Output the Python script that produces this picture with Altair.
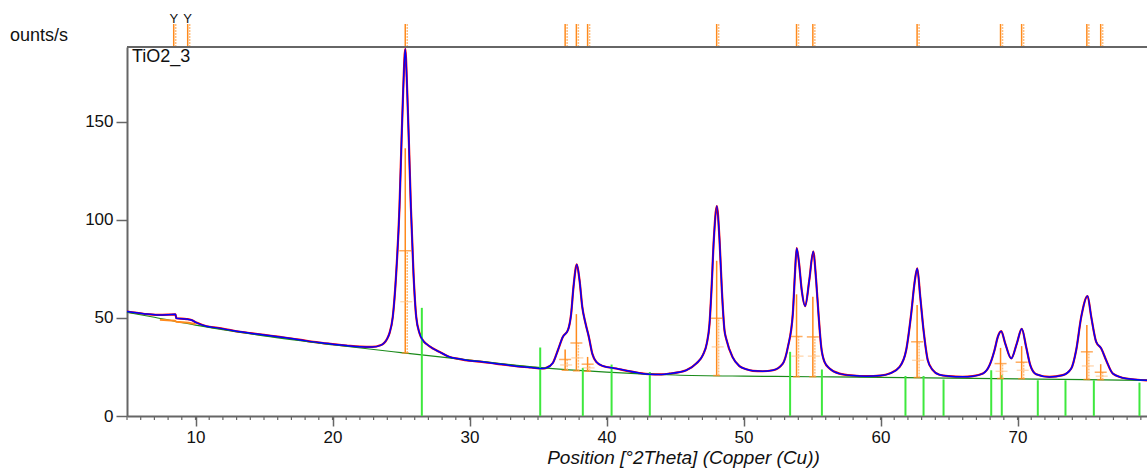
import altair as alt
import pandas as pd

# ---------------- data ----------------
prof_x = [5.0, 6.2, 7.2, 8.0, 8.54, 8.6, 9.34, 9.7, 10.06, 10.8, 11.6, 12.8, 14.0, 15.0, 16.0, 17.0,
          18.0, 19.0, 20.0, 21.0, 22.0, 22.9, 23.5, 24.0, 24.16, 24.4, 24.65, 24.89, 25.04, 25.16,
          25.31, 25.45, 25.57, 25.72, 25.91, 26.11, 26.35, 26.6, 26.84, 27.3, 27.8, 28.5, 29.3, 30.0,
          30.9, 32.0, 33.4, 34.5, 35.35, 35.6, 36.08, 36.45, 36.81, 37.18, 37.42, 37.59, 37.83, 38.03,
          38.23, 38.47, 38.71, 38.96, 39.25, 39.73, 40.71, 41.5, 42.3, 43.1, 44.0, 44.6, 45.82, 46.55,
          47.03, 47.32, 47.52, 47.66, 47.83, 48.05, 48.25, 48.42, 48.61, 48.75, 49.2, 49.7, 50.2,
          50.68, 51.4, 52.14, 52.87, 53.24, 53.6, 53.75, 53.88, 54.05, 54.25, 54.5, 54.8, 55.09,
          55.3, 55.47, 55.67, 55.91, 56.28, 57.0, 58.0, 58.95, 60.0, 60.66, 61.39, 61.87, 62.24,
          62.48, 62.68, 62.9, 63.14, 63.45, 63.8, 64.3, 65.0, 66.0, 66.74, 67.47, 67.96, 68.32,
          68.56, 68.81, 69.1, 69.54, 69.95, 70.31, 70.63, 70.93, 71.36, 72.33, 73.3, 73.92, 74.28,
          74.65, 75.11, 75.38, 75.74, 76.11, 76.47, 76.96, 77.93, 79.45]
prof_y = [53.2, 52.1, 51.5, 51.6, 51.8, 49.8, 49.4, 48.9, 47.6, 45.7, 44.9, 43.4, 42.2, 41.3, 40.4, 39.5,
          38.4, 37.4, 36.6, 35.9, 35.3, 35.2, 36.0, 39.5, 42.2, 50.5, 72.8, 106.6, 140.7, 166.0,
          187.0, 166.0, 140.7, 106.6, 72.8, 50.5, 42.2, 38.5, 36.8, 34.5, 32.7, 30.2, 29.0, 28.2,
          27.6, 26.6, 25.4, 24.7, 24.2, 24.5, 27.0, 33.5, 40.3, 43.7, 52.2, 65.8, 77.2, 69.2,
          55.6, 47.1, 40.3, 31.8, 27.6, 25.5, 24.2, 23.0, 22.0, 21.3, 21.2, 21.6, 23.3, 26.7,
          31.0, 37.0, 47.1, 64.1, 89.6, 107.0, 89.6, 64.1, 43.7, 39.0, 30.0, 25.4, 23.8,
          23.0, 22.8, 23.3, 26.7, 35.2, 52.2, 72.0, 85.5, 78.0, 64.0, 56.0, 69.2, 83.8,
          69.2, 52.2, 35.2, 27.6, 24.2, 21.6, 20.6, 20.3, 20.6, 21.6, 25.0, 33.5, 52.2,
          67.7, 75.2, 60.7, 43.7, 28.4, 23.5, 21.0, 20.3, 20.0, 20.3, 21.6, 25.9, 33.5,
          40.3, 43.2, 37.0, 29.3, 37.0, 44.4, 35.2, 25.9, 21.3, 19.9, 20.8, 24.2, 33.5,
          50.5, 61.1, 50.5, 37.8, 34.4, 28.4, 21.6, 19.1, 18.2]

bg_x = [5, 7, 10, 12, 15, 20, 25, 30, 35, 40, 45, 50, 55, 60, 65, 70, 75, 79.45]
bg_y = [52.8, 50.3, 46.3, 44.0, 40.8, 36.3, 32.3, 28.5, 24.8, 22.4, 20.9, 20.3, 20.0, 19.7, 19.3, 18.9, 18.5, 18.1]

seg_x = [7.4, 8.5, 8.6, 9.5, 10.0]
seg_y = [49.0, 48.5, 48.0, 47.5, 46.8]

ana_pos = [25.31, 36.98, 37.80, 38.62, 48.04, 53.87, 55.06, 62.67, 68.76, 70.30, 75.06, 76.07]
ana_top = [136.4, 33.9, 51.9, 30.1, 79.1, 62.0, 60.7, 56.5, 34.7, 35.6, 46.3, 26.4]
ana_cross = [84.2, 28.8, 37.2, 26.4, 49.8, 40.5, 40.3, 37.8, 26.7, 27.4, 32.7, 22.3]
ana_dot = [58.2, 26.0, 29.6, 24.5, 35.2, 30.5, 30.5, 28.4, 22.8, 23.3, 25.5, 20.3]
ana_base = [32.1, 23.3, 23.0, 22.8, 20.6, 20.0, 20.0, 19.6, 19.1, 19.0, 18.6, 18.5]

rut_pos = [26.52, 35.16, 38.27, 40.37, 43.16, 53.40, 55.72, 61.82, 63.14, 64.60, 68.08, 68.85,
           71.48, 73.50, 75.57, 78.90]
rut_top = [55.1, 34.9, 24.5, 26.2, 22.4, 32.7, 23.7, 20.4, 20.4, 18.6, 23.3, 20.8,
           18.2, 18.2, 18.2, 17.0]

gamma_pos = [8.41, 9.43]
gamma_mark = ["Y", "Y"]

x_ticks = [10, 20, 30, 40, 50, 60, 70]
y_ticks = [0, 50, 100, 150]
minor_ticks = list(range(5, 80))

x_title = "Position [°2Theta] (Copper (Cu))"
y_label = "ounts/s"
sample_label = "TiO2_3"

# ---------------- chart ----------------
W, H = 1020, 369
FONT = "Liberation Sans"
xs = alt.Scale(domain=[5, 79.45], nice=False, zero=False)
ys = alt.Scale(domain=[0, 188], nice=False, zero=False)

prof = pd.DataFrame({"x": prof_x, "y": prof_y})
bg = pd.DataFrame({"x": bg_x, "y": bg_y})
seg = pd.DataFrame({"x": seg_x, "y": seg_y})
ana = pd.DataFrame({"pos": ana_pos, "top": ana_top, "cross": ana_cross, "dot": ana_dot, "base": ana_base})
rut = pd.DataFrame({"pos": rut_pos, "top": rut_top})
strip = pd.DataFrame({"pos": ana_pos + gamma_pos})
gam = pd.DataFrame({"pos": gamma_pos, "m": gamma_mark})
minor = pd.DataFrame({"t": minor_ticks})
one = pd.DataFrame({"a": [0]})

ORANGE = "#ff8a1c"
LIGHT_OR = "#ffbf80"

x_axis = alt.Axis(values=x_ticks, tickSize=10, labelFontSize=17, labelFont=FONT, labelColor="#111",
                  domainColor="#666", domainWidth=2, tickColor="#666", tickWidth=1.5,
                  labelPadding=3, grid=False, titleFont=FONT, titleFontSize=19,
                  titleFontStyle="italic", titleFontWeight="normal", titleColor="#111",
                  titleX=556, titleY=41, titleAlign="center", titleBaseline="middle")
y_axis = alt.Axis(values=y_ticks, tickSize=11, labelFontSize=17, labelFont=FONT, labelColor="#111",
                  domainColor="#666", domainWidth=2, tickColor="#666", tickWidth=1.5,
                  labelPadding=3, grid=False)


def X(f):
    return alt.X(f, type="quantitative", scale=xs, axis=x_axis, title=x_title)


def Y(f):
    return alt.Y(f, type="quantitative", scale=ys, axis=y_axis, title=None)


bg_line = alt.Chart(bg).mark_line(color="#1a8a1a", strokeWidth=1.2, interpolate="monotone").encode(
    x=X("x"), y=Y("y"))
seg_line = alt.Chart(seg).mark_line(color=ORANGE, strokeWidth=2).encode(x=X("x"), y=Y("y"))

rut_rules = alt.Chart(rut).mark_rule(color="#3ee83e", strokeWidth=2).encode(
    x=X("pos"), y=Y("top"), y2=alt.value(H))

ana_rules = alt.Chart(ana).mark_rule(color=ORANGE, strokeWidth=1.5).encode(
    x=X("pos"), y=Y("base"), y2=alt.Y2("top"))
ana_light = alt.Chart(ana).mark_rule(color=LIGHT_OR, strokeWidth=1.5, strokeDash=[2, 1], xOffset=2).encode(
    x=X("pos"), y=Y("base"), y2=alt.Y2("cross"))
ana_cross_t = alt.Chart(ana).mark_tick(color=ORANGE, orient="horizontal", size=12, thickness=1.5).encode(
    x=X("pos"), y=Y("cross"))
ana_dot_t = alt.Chart(ana).mark_tick(color=LIGHT_OR, orient="horizontal", size=12, thickness=1.2,
                                     strokeDash=[2, 1], xOffset=1).encode(x=X("pos"), y=Y("dot"))
ana_base_t = alt.Chart(ana).mark_tick(color=ORANGE, orient="horizontal", size=7, thickness=1.5).encode(
    x=X("pos"), y=Y("base"))

red_line = alt.Chart(prof).mark_line(color="#ff0000", strokeWidth=2.2, interpolate="monotone").encode(
    x=X("x"), y=Y("y"))
blue_line = alt.Chart(prof).mark_line(color="#0000ff", strokeWidth=1.5, interpolate="monotone").encode(
    x=X("x"), y=Y("y"))

strip_rules = alt.Chart(strip).mark_rule(color=ORANGE, strokeWidth=1.5).encode(
    x=X("pos"), y=alt.value(-23), y2=alt.value(0))
strip_light = alt.Chart(strip).mark_rule(color=LIGHT_OR, strokeWidth=1.5, strokeDash=[2, 1], xOffset=2).encode(
    x=X("pos"), y=alt.value(-23), y2=alt.value(0))
gam_text = alt.Chart(gam).mark_text(fontSize=13, font=FONT, color="#111", baseline="middle",
                                    align="center").encode(x=X("pos"), y=alt.value(-28), text="m:N")

top_frame = alt.Chart(one).mark_rule(color="#666", strokeWidth=2).encode(
    x=alt.value(0), x2=alt.value(W), y=alt.value(0))
minor_rules = alt.Chart(minor).mark_rule(color="#666", strokeWidth=1.2).encode(
    x=X("t"), y=alt.value(H), y2=alt.value(H + 4))

ylab = alt.Chart(one).mark_text(fontSize=18, font=FONT, color="#111", align="left", baseline="middle").encode(
    x=alt.value(-117), y=alt.value(-11), text=alt.value(y_label))
slab = alt.Chart(one).mark_text(fontSize=18, font=FONT, color="#111", align="left", baseline="middle").encode(
    x=alt.value(5), y=alt.value(10), text=alt.value(sample_label))

chart = alt.layer(
    red_line, bg_line, seg_line, rut_rules, ana_rules, ana_light, ana_cross_t, ana_dot_t, ana_base_t,
    blue_line, strip_rules, strip_light, gam_text, top_frame, minor_rules, ylab, slab
).properties(
    width=W, height=H,
    autosize=alt.AutoSizeParams(type="none"),
    padding={"left": 127, "top": 47, "right": 0, "bottom": 52},
    background="white",
).configure_view(stroke=None)

chart.save("out.html", embed_options={"renderer": "svg", "actions": False})
